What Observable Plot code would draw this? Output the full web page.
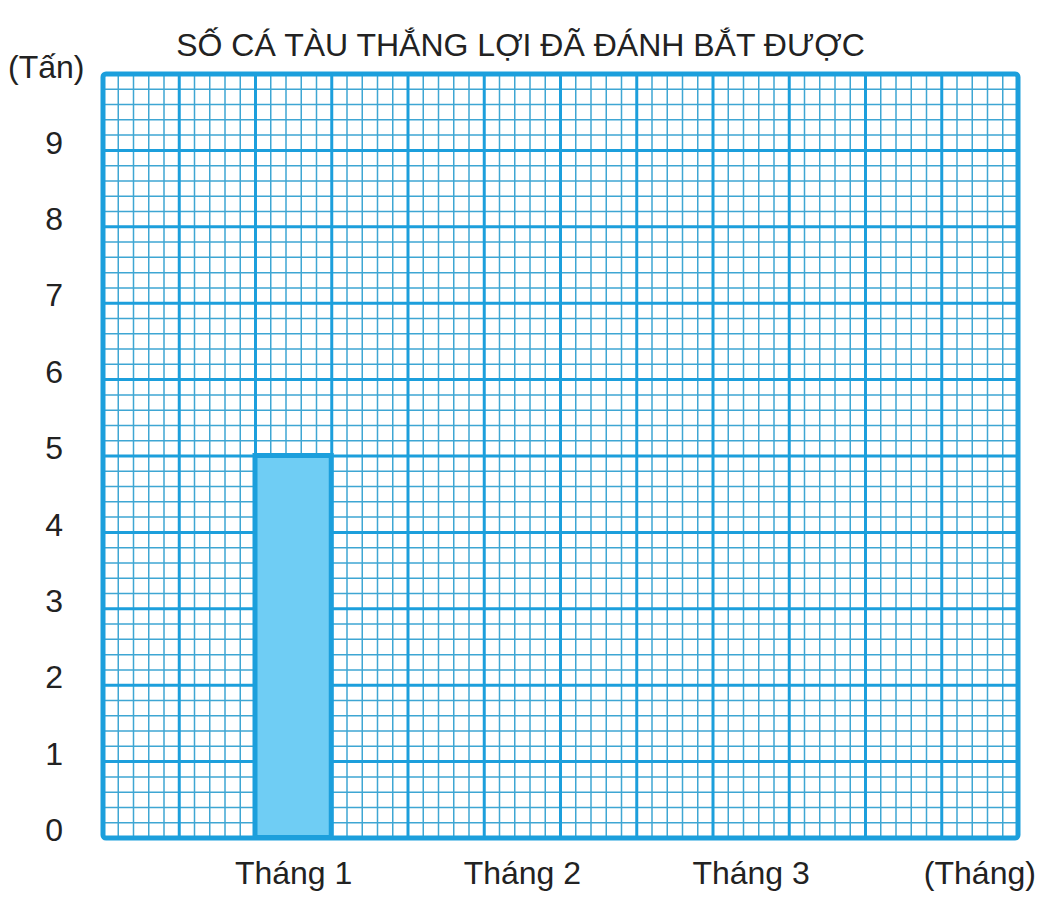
<!DOCTYPE html>
<html>
<head>
<meta charset="utf-8">
<script src="https://cdn.jsdelivr.net/npm/d3@7"></script>
<script src="https://cdn.jsdelivr.net/npm/@observablehq/plot@0.6"></script>
<style>
  html, body { margin: 0; padding: 0; background: #ffffff; }
  #chart svg { display: block; }
</style>
</head>
<body>
<div id="chart"></div>
<script>
// Catch of the "Thắng Lợi" fishing boat, in tonnes per month.
const title = "SỐ CÁ TÀU THẮNG LỢI ĐÃ ĐÁNH BẮT ĐƯỢC";
const yUnit = "(Tấn)";
const xUnit = "(Tháng)";
const months = ["Tháng 1", "Tháng 2", "Tháng 3"];
const catchTons = [5];            // only month 1 has been filled in
const yTicks = [0, 1, 2, 3, 4, 5, 6, 7, 8, 9];

// Graph-paper layout: 12 squares across, 10 squares up, 5 small squares per big one.
const COLS = 12, ROWS = 10, SUB = 5;
const PER_MONTH = 3;
const colOf = i => PER_MONTH * i + 2;   // bar sits in the last square of each group

const xLabels = [...months, xUnit];
const bars = catchTons.map((v, i) => ({x1: colOf(i), x2: colOf(i) + 1, y: v}));

const major = "#1c9fdc";
const minor = "#3ea6d3";
const ink = "#222222";
const font = "'Liberation Sans', Arial, Helvetica, sans-serif";

const minorX = d3.range(0, COLS * SUB + 1).map(k => k / SUB).filter(v => v % 1 !== 0);
const minorY = d3.range(0, ROWS * SUB + 1).map(k => k / SUB).filter(v => v % 1 !== 0);
const majorX = d3.range(1, COLS);
const majorY = d3.range(1, ROWS);

const chart = Plot.plot({
  width: 1039,
  height: 898,
  marginLeft: 102.5,
  marginRight: 21.5,
  marginTop: 73.5,
  marginBottom: 60.5,
  style: {fontFamily: font, background: "#ffffff", color: ink},
  x: {domain: [0, COLS], axis: null},
  y: {domain: [0, ROWS], axis: null},
  marks: [
    // fine grid
    Plot.ruleX(minorX, {stroke: minor, strokeWidth: 1.5}),
    Plot.ruleY(minorY, {stroke: minor, strokeWidth: 1.5}),
    // one-tonne / one-square grid
    Plot.ruleX(majorX, {stroke: major, strokeWidth: 3}),
    Plot.ruleY(majorY, {stroke: major, strokeWidth: 3}),
    // bars
    Plot.rect(bars, {x1: "x1", x2: "x2", y1: 0, y2: "y", fill: "#6fcdf4", stroke: major, strokeWidth: 5}),
    Plot.frame({stroke: major, strokeWidth: 5, rx: 3}),
    // y tick labels
    Plot.axisY(yTicks, {
      tickSize: 0, tickPadding: 40, fontSize: 32, dy: -7, fill: ink,
      label: null, tickFormat: d => String(d)
    }),
    // x labels
    Plot.text(xLabels, {
      x: (d, i) => colOf(i) + 0.5, frameAnchor: "bottom", dy: 46,
      fontSize: 32, fill: ink
    }),
    // unit on the y axis
    Plot.text([yUnit], {frameAnchor: "top-left", dx: -95, dy: -19, fontSize: 32, fill: ink}),
    // title
    Plot.text([title], {frameAnchor: "top", dx: -40, dy: -41, fontSize: 32, fill: ink})
  ]
});

document.getElementById("chart").append(chart);
</script>
</body>
</html>
